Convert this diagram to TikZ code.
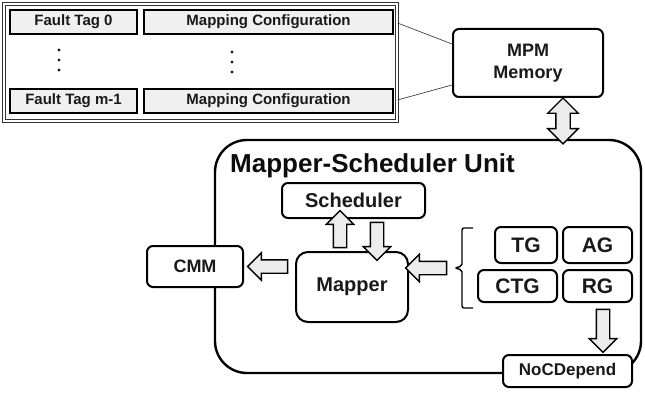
\documentclass[tikz,border=0pt]{standalone}
\usepackage{fontspec}
\setmainfont{Liberation Sans}
\usetikzlibrary{positioning,calc,shapes.arrows}

\tikzset{
  box/.style={draw, line width=2pt, rounded corners=6pt, fill=white,
    inner sep=0pt, text=black!90, font=\bfseries},
  cell/.style={draw, line width=1.7pt, fill=gray!12, inner sep=0pt,
    minimum height=24pt, text=black!90, font=\fontsize{15}{17}\selectfont\bfseries},
  fatarrow/.style={single arrow, draw, line width=1.4pt, fill=gray!15,
    inner xsep=0pt, inner ysep=6pt, single arrow head extend=7pt},
  dfatarrow/.style={double arrow, draw, line width=1.4pt, fill=gray!15,
    inner xsep=0pt, inner ysep=6.5pt, double arrow head extend=8pt},
  fat/.style={to path={let \p1=($(\tikztotarget)-(\tikztostart)$),
    \n1={veclen(\x1,\y1)}, \n2={atan2(\y1,\x1)} in
    node[fatarrow, minimum height=\n1, rotate=\n2]
    at ($(\tikztostart)!0.5!(\tikztotarget)$) {}}},
  dfat/.style={to path={let \p1=($(\tikztotarget)-(\tikztostart)$),
    \n1={veclen(\x1,\y1)}, \n2={atan2(\y1,\x1)} in
    node[dfatarrow, minimum height=\n1, rotate=\n2]
    at ($(\tikztostart)!0.5!(\tikztotarget)$) {}}},
}

\begin{document}
\begin{tikzpicture}[x=1pt, y=-1pt]
  \useasboundingbox (0,0) rectangle (645,393);

  % Fault tag table
  \node[draw, gray!40!black, line width=1pt, double, double distance=2pt,
    minimum width=393pt, minimum height=117pt] (tbl) at (200.5,62.5) {};
  \node[cell, minimum width=127pt] (tag0) at (73.5,22) {Fault Tag 0};
  \node[cell, minimum width=249pt] (cfg0) at (268.5,22) {Mapping Configuration};
  \node[cell, minimum width=127pt] (tagm) at (73.5,101) {Fault Tag m-1};
  \node[cell, minimum width=249pt] (cfgm) at (268.5,101) {Mapping Configuration};
  \foreach \y in {50,60,70} {
    \fill[black!90] (59,\y) circle (1.7pt);
    \fill[black!90] (232,\y+2) circle (1.7pt);
  }

  % MPM memory
  \node[box, minimum width=150pt, minimum height=68pt, align=center,
    font=\fontsize{18}{22}\selectfont\bfseries] (mpm) at (528,63) {MPM\\Memory};
  \draw[gray!50!black, line width=0.7pt] ([yshift=39.5pt]tbl.east) -- ([yshift=19pt]mpm.west);
  \draw[gray!50!black, line width=0.7pt] ([yshift=-37.5pt]tbl.east) -- ([yshift=-22pt]mpm.west);

  % Mapper-Scheduler unit
  \node[draw, line width=2.4pt, rounded corners=32pt, minimum width=426pt,
    minimum height=233pt] (msu) at (428,256.5) {};
  \node[anchor=base west, inner sep=0pt, text=black!95,
    font=\fontsize{26}{28}\selectfont\bfseries] (title) at (230,172) {Mapper-Scheduler Unit};

  \node[box, minimum width=143pt, minimum height=35pt,
    font=\fontsize{20}{22}\selectfont\bfseries] (sched) at (353.5,200.5) {Scheduler};
  \node[box, rounded corners=12pt, minimum width=112pt, minimum height=70pt,
    font=\fontsize{20}{22}\selectfont\bfseries] (mapper) at (352,287) {Mapper};
  \node[box, minimum width=96pt, minimum height=41pt,
    font=\fontsize{18}{20}\selectfont\bfseries] (cmm) at (195,266.5) {CMM};

  % Graphs
  \node[box, minimum width=62pt, minimum height=36pt,
    font=\fontsize{21}{23}\selectfont\bfseries] (tg) at (526,245) {TG};
  \node[box, minimum width=69pt, minimum height=36pt,
    font=\fontsize{21}{23}\selectfont\bfseries] (ag) at (597.5,245) {AG};
  \node[box, minimum width=79pt, minimum height=32pt,
    font=\fontsize{21}{23}\selectfont\bfseries] (ctg) at (517.5,286) {CTG};
  \node[box, minimum width=69pt, minimum height=32pt,
    font=\fontsize{21}{23}\selectfont\bfseries] (rg) at (597.5,286) {RG};
  \node[box, minimum width=129pt, minimum height=32pt,
    font=\fontsize{17}{19}\selectfont\bfseries] (noc) at (567.5,371) {NoCDepend};

  % Brace
  \coordinate (bt) at (455,268);
  \draw[line width=1.4pt, rounded corners=2pt] (473,228) -- (462,228) -- (462,266)
    -- (bt) -- (462,270) -- (462,308) -- (473,308);

  % Fat arrows
  \path ([xshift=-4pt]mapper.west |- cmm.east) to[fat] ([xshift=7pt]cmm.east);
  \path ([xshift=-5pt]bt) to[fat] (mapper.east |- bt);
  \path ([xshift=-12pt]mapper.north) to[fat] ([xshift=-12pt,yshift=5pt]mapper.north |- sched.south);
  \path ([xshift=25pt]mapper.north |- sched.south) to[fat] ([xshift=25pt,yshift=-6pt]mapper.north);
  \path ([xshift=5.5pt,yshift=-3pt]rg.south) to[fat] ([xshift=5.5pt,yshift=5pt]rg.south |- noc.north);
  \path ([xshift=35pt]mpm.south) to[dfat] ([xshift=35pt,yshift=-5pt]mpm.south |- msu.north);
\end{tikzpicture}
\end{document}
